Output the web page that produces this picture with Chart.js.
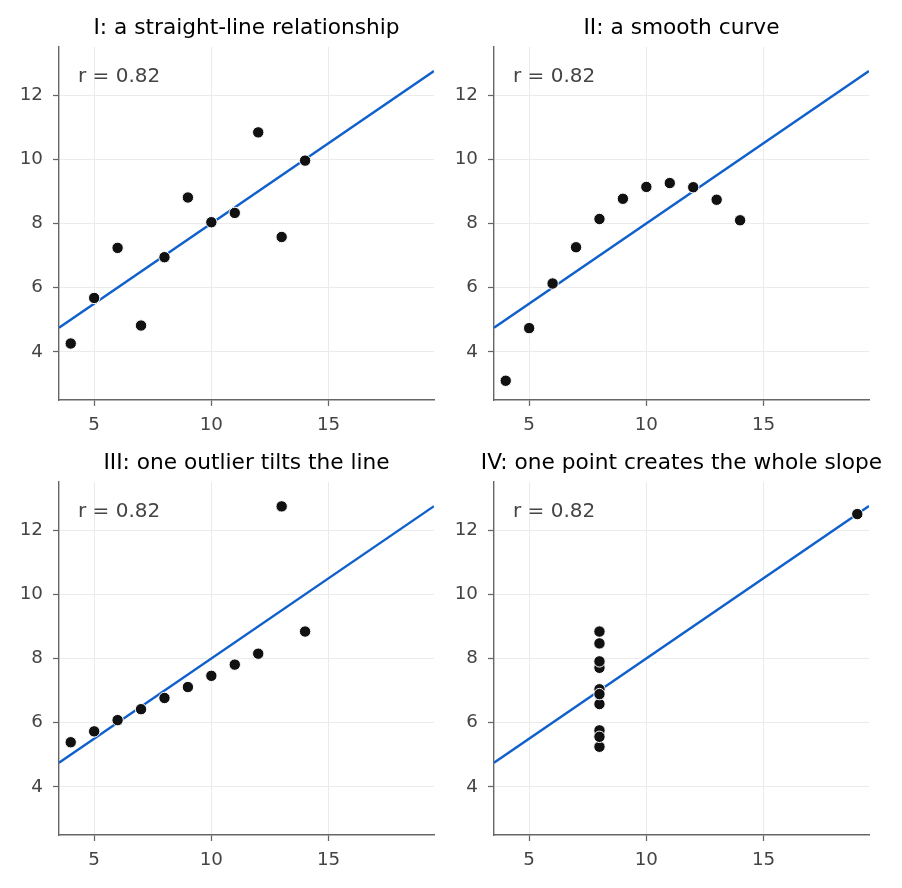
<!DOCTYPE html>
<html><head><meta charset="utf-8">
<script src="https://cdn.jsdelivr.net/npm/chart.js@4/dist/chart.umd.min.js"></script>
<style>
html,body{margin:0;padding:0;background:#fff;}
#wrap{position:relative;width:902px;height:888px;}
.p{position:absolute;width:451px;height:444px;}
</style></head><body>
<div id="wrap">
<div class="p" style="left:0;top:0"><canvas id="c0" width="451" height="444"></canvas></div>
<div class="p" style="left:435px;top:0"><canvas id="c1" width="451" height="444"></canvas></div>
<div class="p" style="left:0;top:435px"><canvas id="c2" width="451" height="444"></canvas></div>
<div class="p" style="left:435px;top:435px"><canvas id="c3" width="451" height="444"></canvas></div>
</div>
<script>
const titles = ["I: a straight-line relationship","II: a smooth curve","III: one outlier tilts the line","IV: one point creates the whole slope"];
const xI   = [10,8,13,9,11,14,6,4,12,7,5];
const xIV  = [8,8,8,8,8,8,8,19,8,8,8];
const yI   = [8.04,6.95,7.58,8.81,8.33,9.96,7.24,4.26,10.84,4.82,5.68];
const yII  = [9.14,8.14,8.74,8.77,9.26,8.10,6.13,3.10,9.13,7.26,4.74];
const yIII = [7.46,6.77,12.74,7.11,7.81,8.84,6.08,5.39,8.15,6.42,5.73];
const yIV  = [6.58,5.76,7.71,8.84,8.47,7.04,5.25,12.50,5.56,7.91,6.89];
const rLabel = "r = 0.82";
const xTicks = [5,10,15];
const yTicks = [4,6,8,10,12];
const xRange = [3.5,19.5];
const yRange = [2.5,13.5];

const sets = [[xI,yI],[xI,yII],[xI,yIII],[xIV,yIV]];
const FONT = "'DejaVu Sans', sans-serif";

function fit(xs, ys){
  const n=xs.length; const mx=xs.reduce((a,b)=>a+b)/n; const my=ys.reduce((a,b)=>a+b)/n;
  let sxy=0,sxx=0; for(let i=0;i<n;i++){sxy+=(xs[i]-mx)*(ys[i]-my); sxx+=(xs[i]-mx)**2;}
  const b=sxy/sxx; return {a:my-b*mx,b};
}

const deco = {
  id:'deco',
  afterDraw(chart){
    const {ctx, chartArea:ca} = chart;
    ctx.save();
    ctx.fillStyle='#000'; ctx.font="21.7px "+FONT; ctx.textAlign='center'; ctx.textBaseline='middle';
    ctx.fillText(chart.options.plugins.deco.title, (ca.left+ca.right)/2, 28);
    ctx.fillStyle='#444'; ctx.font="20px "+FONT; ctx.textAlign='left';
    ctx.fillText(rLabel, ca.left+19, ca.top+30);
    ctx.restore();
  }
};

sets.forEach(([xs,ys],k)=>{
  const f = fit(xs,ys);
  const pts = xs.map((x,i)=>({x, y:ys[i]}));
  const line = xRange.map(x=>({x, y:f.a+f.b*x}));
  new Chart(document.getElementById('c'+k), {
    type:'scatter',
    data:{datasets:[
      {data:pts, order:0, backgroundColor:'#111', borderColor:'#fff', borderWidth:1, pointRadius:5.7, pointHoverRadius:5.7},
      {type:'line', data:line, order:1, borderColor:'#1060cc', borderWidth:2.4, pointRadius:0, fill:false}
    ]},
    options:{
      responsive:false, animation:false, events:[],
      layout:{padding:{left:0,top:47,right:17,bottom:0}},
      plugins:{legend:{display:false}, tooltip:{enabled:false}, deco:{title:titles[k]}},
      scales:{
        x:{type:'linear', min:xRange[0], max:xRange[1],
          afterBuildTicks(s){ s.ticks = xTicks.map(v=>({value:v})); },
          afterFit(s){ s.height = 44; },
          grid:{color:'#ebebeb', lineWidth:1, tickColor:'#666', tickLength:6, tickWidth:1.25},
          border:{display:true, color:'#666', width:1.4},
          ticks:{color:'#444', font:{family:FONT, size:18.3}, padding:8, maxRotation:0}
        },
        y:{type:'linear', min:yRange[0], max:yRange[1],
          afterBuildTicks(s){ s.ticks = yTicks.map(v=>({value:v})); },
          afterFit(s){ s.width = 59; },
          grid:{color:'#ebebeb', lineWidth:1, tickColor:'#666', tickLength:6, tickWidth:1.25},
          border:{display:true, color:'#666', width:1.4},
          ticks:{color:'#444', font:{family:FONT, size:18.3}, padding:10}
        }
      }
    },
    plugins:[deco]
  });
});
</script>
</body></html>
